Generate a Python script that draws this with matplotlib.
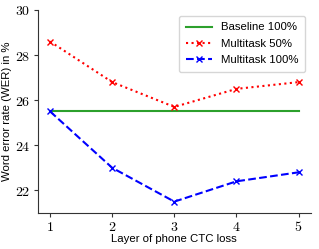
import matplotlib
matplotlib.use("Agg")
from matplotlib import pyplot as plt

# layer of the phone CTC loss and word error rates
layers = [1, 2, 3, 4, 5]
baseline_100 = [25.5, 25.5, 25.5, 25.5, 25.5]
multitask_50 = [28.6, 26.8, 25.7, 26.5, 26.8]
multitask_100 = [25.5, 23.0, 21.5, 22.4, 22.8]
y_ticks = [22, 24, 26, 28, 30]

plt.rcParams['mathtext.fontset'] = 'cm'
plt.rcParams['font.family'] = 'Liberation Sans'
label_size = 8.2

fig = plt.figure(figsize=(3.19, 2.49), dpi=100)
ax = fig.add_axes([0.118, 0.145, 0.857, 0.815])

ax.plot(layers, baseline_100, color='#2ca02c', linestyle='-', linewidth=1.5, label='Baseline 100%')
ax.plot(layers, multitask_50, color='red', linestyle=':', linewidth=1.5, marker='x',
        markersize=5, label='Multitask 50%')
ax.plot(layers, multitask_100, color='blue', linestyle='--', linewidth=1.5, marker='x',
        markersize=5, label='Multitask 100%')

ax.set_ylim(21, 30)
ax.set_xticks(layers)
ax.set_xticklabels(['$' + str(v) + '$' for v in layers], fontsize=10)
ax.set_yticks(y_ticks)
ax.set_yticklabels(['$' + str(v) + '$' for v in y_ticks], fontsize=10)
ax.tick_params(length=3, width=0.8, pad=2, colors='#333333', labelcolor='black')

for side in ['top', 'right']:
    ax.spines[side].set_visible(False)
for side in ['left', 'bottom']:
    ax.spines[side].set_color('#333333')

ax.set_xlabel('Layer of phone CTC loss', fontsize=label_size, labelpad=0)
ax.set_ylabel('Word error rate (WER) in %', fontsize=label_size, labelpad=2)
ax.legend(loc='upper right', fontsize=label_size, handlelength=2.3, borderpad=0.6,
          labelspacing=0.55, framealpha=0.8)

fig.savefig('out.png', dpi=100)
